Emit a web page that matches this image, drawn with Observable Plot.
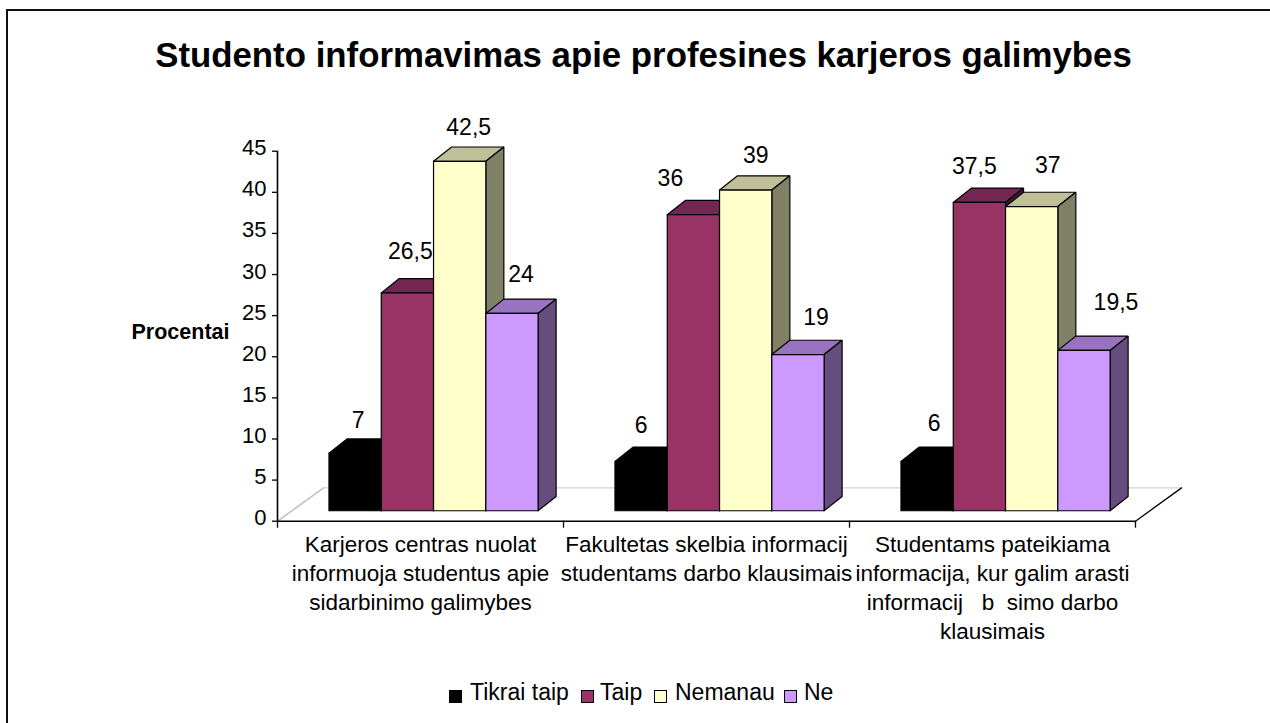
<!DOCTYPE html>
<html><head><meta charset="utf-8">
<script src="https://cdn.jsdelivr.net/npm/d3@7"></script>
<script src="https://cdn.jsdelivr.net/npm/@observablehq/plot@0.6"></script>
<style>
html,body{margin:0;padding:0;background:#fff;}
body{width:1270px;height:723px;position:relative;overflow:hidden;font-family:"Liberation Sans",Arial,sans-serif;color:#000;}
#frame{position:absolute;left:6px;top:9px;width:1264px;height:714px;border-left:2px solid #111;border-top:2px solid #111;box-sizing:border-box;}
#title{position:absolute;left:0;width:1287px;top:35px;text-align:center;font-weight:bold;font-size:34.8px;line-height:40px;white-space:nowrap;}
#chart{position:absolute;left:0;top:100px;}
#legend{position:absolute;left:449px;top:679px;height:26px;font-size:23px;line-height:26px;white-space:nowrap;}
#legend span.k{position:absolute;top:0;}
#legend i{position:absolute;top:11px;width:13px;height:13px;box-sizing:border-box;border:1px solid #000;}
</style></head><body>
<div id="frame"></div>
<div id="title">Studento informavimas apie profesines karjeros galimybes</div>
<div id="chart"></div>
<div id="legend"></div>
<script>
const categories = [
  "Karjeros centras nuolat\ninformuoja studentus apie\nsidarbinimo galimybes",
  "Fakultetas skelbia informacij\nstudentams darbo klausimais",
  "Studentams pateikiama\ninformacija, kur galim arasti\ninformacij   b  simo darbo\nklausimais"
];
const seriesNames = ["Tikrai taip", "Taip", "Nemanau", "Ne"];
const tikraiTaip = [7, 6, 6];
const taip = [26.5, 36, 37.5];
const nemanau = [42.5, 39, 37];
const ne = [24, 19, 19.5];
const seriesValues = [tikraiTaip, taip, nemanau, ne];
const yTicks = [0, 5, 10, 15, 20, 25, 30, 35, 40, 45];
const valueLabels = [["7", "6", "6"], ["26,5", "36", "37,5"], ["42,5", "39", "37"], ["24", "19", "19,5"]];

// appearance
const frontFill = ["#000000", "#993366", "#FFFFCC", "#CC99FF"];
const topFill = ["#000000", "#732650", "#BFBF99", "#9973BF"];
const sideFill = ["#000000", "#4D1A33", "#808066", "#664D80"];
// pseudo-3D geometry, in data units
const firstBar = 0.18, barW = 0.1828, depthX = 0.063, depthY = 1.74, base = 1.27;
const floorX = 0.161, floorY = 4.05;
const pxX = 286, pxY = 8.222;
// label nudges in px from the bar's front-centre / back-top
const labelDx = [[3, 0, 7], [3, -23, -5], [9, 10, 16], [9, 18, 32]];
const labelDy = [[-18, -21, -23], [-27, -22, -21], [-19, -20, -27], [-24, -23, -33]];

const poly = (pts, id, fill) => pts.map(([x, y]) => ({x, y, id, fill}));
const pieces = [];
seriesValues.forEach((vals, s) => vals.forEach((v, g) => {
  const x0 = g + firstBar + s * barW, x1 = x0 + barW, y0 = base, y1 = base + v;
  pieces.push(
    poly([[x0,y1],[x0+depthX,y1+depthY],[x1+depthX,y1+depthY],[x1,y1],[x0,y1]], `t${s}${g}`, topFill[s]),
    poly([[x1,y0],[x1+depthX,y0+depthY],[x1+depthX,y1+depthY],[x1,y1],[x1,y0]], `s${s}${g}`, sideFill[s]),
    poly([[x0,y0],[x1,y0],[x1,y1],[x0,y1],[x0,y0]], `f${s}${g}`, frontFill[s])
  );
}));
const labels = seriesValues.flatMap((vals, s) => vals.map((v, g) => ({
  text: valueLabels[s][g],
  x: g + firstBar + s * barW + barW / 2 + labelDx[s][g] / pxX,
  y: base + v + depthY - labelDy[s][g] / pxY
})));

const plot = Plot.plot({
  width: 1270, height: 570,
  marginLeft: 277, marginRight: 135, marginTop: 50.7, marginBottom: 149.3,
  x: {domain: [0, 3]}, y: {domain: [0, 45]},
  style: {fontFamily: '"Liberation Sans",Arial,sans-serif', fontSize: "22px", background: "transparent", color: "#000"},
  marks: [
    Plot.line([{x:0,y:0},{x:floorX,y:floorY}], {x:"x", y:"y", stroke:"#c0c0c0", strokeWidth:1.5}),
    Plot.line([{x:floorX,y:floorY},{x:3+floorX,y:floorY}], {x:"x", y:"y", stroke:"#c8c8c8", strokeWidth:1}),
    Plot.line([{x:3,y:0},{x:3+floorX,y:floorY}], {x:"x", y:"y", stroke:"#000", strokeWidth:1.3}),
    ...pieces.map(p => Plot.line(p, {x:"x", y:"y", fill:p[0].fill, stroke:"#000", strokeWidth:1.2, strokeLinejoin:"miter", curve:"linear"})),
    Plot.ruleX([0], {y1:0, y2:45, stroke:"#000", strokeWidth:1.6}),
    Plot.ruleY([0], {x1:0, x2:3, stroke:"#000", strokeWidth:1.6}),
    Plot.axisY({ticks:yTicks, tickSize:5, tickFormat:()=>"", label:null, strokeWidth:1.3}),
    Plot.axisY({ticks:yTicks, tickSize:0, tickPadding:11, dy:-3, label:null}),
    Plot.axisX({ticks:[0,1,2,3], anchor:"bottom", tickSize:7, tickFormat:()=>"", label:null, strokeWidth:1.3}),
    Plot.axisX({ticks:[0.5,1.5,2.5], anchor:"bottom", tickSize:0, tickPadding:10, label:null, fontSize:22.5,
      tickFormat:t=>categories[Math.floor(t)], lineHeight:29/22.5, lineAnchor:"top"}),
    Plot.text(labels, {x:"x", y:"y", text:"text", fill:"#000", fontSize:23}),
    Plot.text(["Procentai"], {x:()=>0, y:()=>22.95, dx:-48, textAnchor:"end", fontWeight:"bold", fontSize:21.5})
  ]
});
document.getElementById("chart").appendChild(plot);

const legendX = [[0,21],[132,151],[205,226],[335,355]];
const leg = document.getElementById("legend");
seriesNames.forEach((n, i) => {
  const sw = document.createElement("i");
  sw.style.left = legendX[i][0] + "px"; sw.style.background = frontFill[i];
  const t = document.createElement("span");
  t.className = "k"; t.textContent = n; t.style.left = legendX[i][1] + "px";
  leg.append(sw, t);
});
</script>
</body></html>
